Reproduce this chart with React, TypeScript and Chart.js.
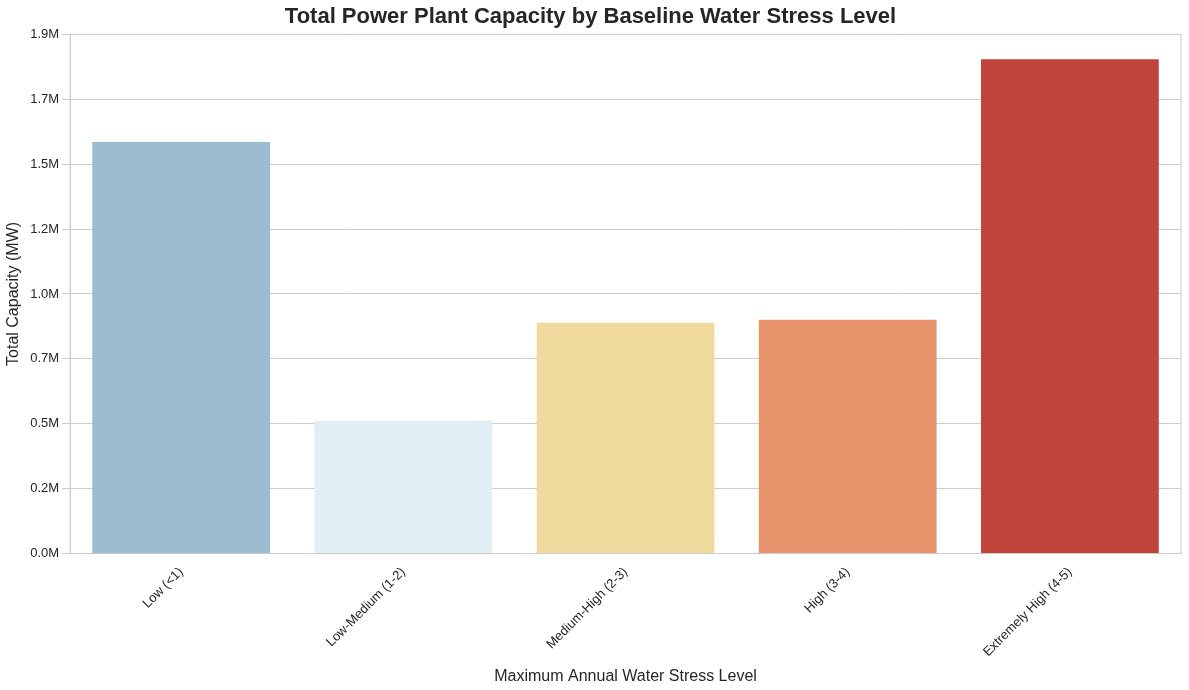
import React, { useEffect, useRef } from "react";
import { Chart, registerables } from "chart.js";
Chart.register(...registerables);

const categories = ["Low (<1)", "Low-Medium (1-2)", "Medium-High (2-3)", "High (3-4)", "Extremely High (4-5)"];
const capacities = [1544000, 498000, 866000, 877000, 1855000];
const colors = ["#9bbcd1", "#e1eff4", "#f0d99d", "#e8956d", "#c0443b"];

export default function App() {
  const ref = useRef<HTMLCanvasElement>(null);
  useEffect(() => {
    const font = "'Liberation Sans', Arial, sans-serif";
    const chart = new Chart(ref.current!, {
      type: "bar",
      data: {
        labels: categories,
        datasets: [{ data: capacities, backgroundColor: colors, barPercentage: 0.8, categoryPercentage: 1 }],
      },
      options: {
        animation: false,
        responsive: false,
        layout: { padding: { top: 0, right: 8, left: 0, bottom: 0 } },
        plugins: {
          legend: { display: false },
          tooltip: { enabled: false },
          title: {
            display: true,
            text: "Total Power Plant Capacity by Baseline Water Stress Level",
            color: "#262626",
            font: { family: font, size: 22, weight: "bold" },
            padding: { top: 4, bottom: 4 },
          },
        },
        scales: {
          x: {
            grid: { display: false },
            border: { display: true, color: "#cccccc" },
            ticks: { color: "#262626", font: { family: font, size: 13 }, maxRotation: 45, minRotation: 45 },
            title: { display: true, text: "Maximum Annual Water Stress Level", color: "#262626", font: { family: font, size: 16 }, padding: { top: 4 } },
          },
          y: {
            min: 0,
            max: 1948000,
            grid: { color: "#cccccc" },
            border: { display: true, color: "#cccccc" },
            ticks: {
              stepSize: 250000,
              color: "#262626",
              font: { family: font, size: 13 },
              callback: (v: any) => (Number(v) / 1e6).toFixed(1) + "M",
            },
            title: { display: true, text: "Total Capacity (MW)", color: "#262626", font: { family: font, size: 16 } },
          },
        },
      },
      plugins: [
        {
          id: "frame",
          afterDraw(c: any) {
            const { ctx, chartArea: a } = c;
            ctx.save();
            ctx.strokeStyle = "#cccccc";
            ctx.lineWidth = 1;
            ctx.strokeRect(a.left, a.top, a.right - a.left, a.bottom - a.top);
            ctx.restore();
          },
        },
      ],
    });
    return () => chart.destroy();
  }, []);
  return <canvas ref={ref} width={1189} height={690} style={{ position: "absolute", left: 0, top: 0 }} />;
}
